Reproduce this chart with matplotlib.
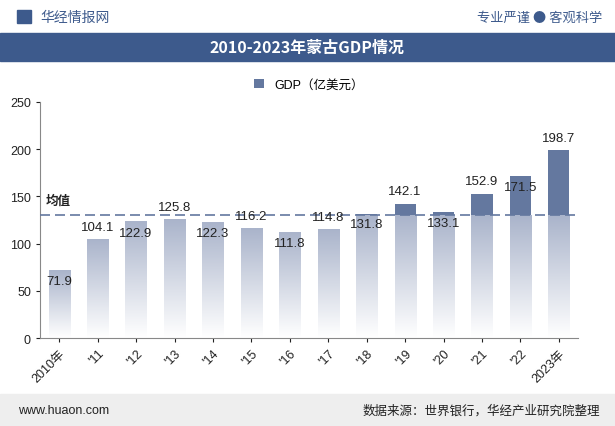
import numpy as np
import matplotlib
matplotlib.use("Agg")
import matplotlib.pyplot as plt
from matplotlib.colors import LinearSegmentedColormap
from matplotlib.patches import Rectangle

plt.rcParams["font.family"] = ["Liberation Sans", "Noto Sans CJK SC"]

# ── Data ──────────────────────────────────────────────────────────────────────
years = ["2010年", "'11", "'12", "'13", "'14", "'15", "'16", "'17", "'18", "'19",
         "'20", "'21", "'22", "2023年"]
gdp = [71.9, 104.1, 122.9, 125.8, 122.3, 116.2, 111.8, 114.8, 131.8, 142.1,
       133.1, 152.9, 171.5, 198.7]
label_above = [False, True, False, True, False, True, False, True, False, True,
               False, True, False, True]

DARK = "#64789f"
NAVY = "#3d5a8c"
TEXT = "#222222"
CJK = "Noto Sans CJK SC"

fig = plt.figure(figsize=(6.15, 4.27), dpi=100)

# ── Header / footer ───────────────────────────────────────────────────────────
fig.text(0.065, 0.958, "华经情报网", fontsize=10, color=NAVY, va="center", family=CJK)
fig.patches.append(Rectangle((0.028, 0.943), 0.022, 0.032, transform=fig.transFigure,
                             color=NAVY, figure=fig))
fig.text(0.98, 0.958, "专业严谨 ● 客观科学", fontsize=9.5, color=NAVY,
         va="center", ha="right", family=CJK)
fig.patches.append(Rectangle((0, 0.855), 1, 0.065, transform=fig.transFigure,
                             color=NAVY, figure=fig))
fig.text(0.5, 0.888, "2010-2023年蒙古GDP情况", fontsize=11.5, color="white",
         fontweight="bold", ha="center", va="center", family=CJK)
fig.patches.append(Rectangle((0, 0), 1, 0.075, transform=fig.transFigure,
                             color="#eeeeee", figure=fig))
fig.text(0.03, 0.038, "www.huaon.com", fontsize=9, color=TEXT, va="center")
fig.text(0.975, 0.038, "数据来源：世界银行，华经产业研究院整理", fontsize=9,
         color=TEXT, va="center", ha="right", family=CJK)

# ── Chart ─────────────────────────────────────────────────────────────────────
ax = fig.add_axes([0.065, 0.206, 0.875, 0.553])
mean = float(np.mean(gdp))
x = np.arange(len(gdp))
w = 0.55

light = LinearSegmentedColormap.from_list("g", ["#ffffff", "#aab4cb"])
for i, v in enumerate(gdp):
    lo = min(v, mean)
    grad = np.linspace(0, 1, 100).reshape(-1, 1)
    ax.imshow(grad, extent=(i - w / 2, i + w / 2, 0, lo), origin="lower",
              cmap=light, aspect="auto", zorder=2)
    if v > mean:
        ax.bar(i, v - mean, bottom=mean, width=w, color=DARK, zorder=2)
    if label_above[i]:
        ax.text(i, v + 7, f"{v:.1f}", ha="center", va="bottom", fontsize=9.5,
                color=TEXT, zorder=4)
    else:
        ax.text(i, v - 5, f"{v:.1f}", ha="center", va="top", fontsize=9.5,
                color=TEXT, zorder=4)

ax.axhline(mean, color=DARK, linestyle=(0, (6, 3)), linewidth=1.2, zorder=3)
ax.text(-0.35, mean + 12, "均值", fontsize=9, fontweight="bold", color=TEXT, family=CJK)

ax.set_xlim(-0.5, len(gdp) - 0.5)
ax.set_ylim(0, 250)
ax.set_yticks(range(0, 251, 50))
ax.set_xticks(x)
ax.set_xticklabels(years, rotation=45, ha="right", rotation_mode="anchor")
ax.tick_params(labelsize=9, colors=TEXT, length=3)
ax.spines[["top", "right"]].set_visible(False)
ax.spines[["left", "bottom"]].set_color("#888888")

# legend
ax.bar([0], [0], color=DARK, label="GDP（亿美元）")
ax.legend(loc="lower center", bbox_to_anchor=(0.5, 1.0), frameon=False,
          fontsize=9, handlelength=0.8, handleheight=0.8)

fig.savefig("out.png", dpi=100)
